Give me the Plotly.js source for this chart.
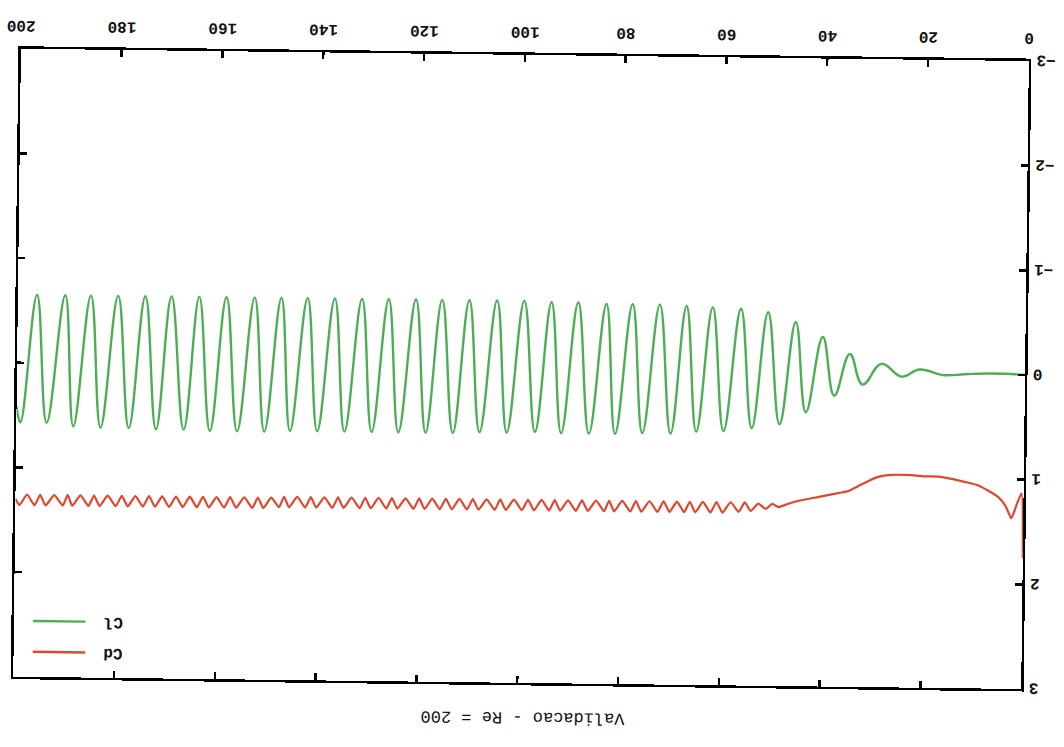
<!DOCTYPE html>
<html>
<head>
<meta charset="utf-8">
<script src="https://cdn.plot.ly/plotly-3.0.1.min.js"></script>
<style>
  html, body { margin: 0; padding: 0; background: #ffffff; overflow: hidden; width: 1064px; height: 747px; }
  #chart { width: 1064px; height: 747px; transform: rotate(180.7deg); transform-origin: 50% 50%; }
</style>
</head>
<body>
<div id="chart"></div>
<script>
// ---- Data read from the (scanned, upside-down) reference ----
const chartTitle = "Validacao - Re = 200";
const xTickVals = [0, 20, 40, 60, 80, 100, 120, 140, 160, 180, 200];
const yTickVals = [-3, -2, -1, 0, 1, 2, 3];

// Cl: lift coefficient (extrema and a few flat points)
const clTime = [0, 4, 8, 12, 16.3, 20.9, 24.5, 28.5, 32.2, 34.8, 37.8, 40.2, 43.4, 45.6, 48.6, 51.1, 54.1, 56.5, 59.7, 62.1,
  65.1, 67.3, 70.2, 72.6, 75.8, 78.0, 81.2, 83.2, 86.4, 88.8, 91.9, 94.1, 97.1, 99.5, 102.7, 104.9, 108.1, 110.4, 113.4, 115.8,
  118.8, 121.0, 124.2, 126.4, 129.5, 131.7, 134.9, 137.1, 140.3, 142.5, 145.7, 147.7, 150.8, 153.0, 156.2, 158.6, 161.6, 164.0,
  166.8, 169.5, 172.3, 174.7, 177.7, 180.1, 183.3, 185.5, 188.7, 190.6, 194.0, 196.2, 199.2, 200];
const clValue = [0.00, -0.01, -0.01, 0.00, 0.01, -0.04, 0.03, -0.09, 0.11, -0.18, 0.22, -0.34, 0.38, -0.48, 0.50, -0.57, 0.54, -0.60, 0.57, -0.61,
  0.58, -0.62, 0.60, -0.63, 0.60, -0.63, 0.61, -0.63, 0.61, -0.64, 0.61, -0.64, 0.60, -0.65, 0.61, -0.65, 0.61, -0.65, 0.62, -0.65,
  0.62, -0.65, 0.62, -0.65, 0.62, -0.65, 0.62, -0.65, 0.62, -0.65, 0.62, -0.65, 0.63, -0.65, 0.63, -0.65, 0.63, -0.65,
  0.62, -0.65, 0.62, -0.65, 0.61, -0.65, 0.61, -0.65, 0.60, -0.65, 0.57, -0.65, 0.57, 0.42];

// Cd: drag coefficient
const cdTime = [0, 0.4, 1.2, 2.0, 2.4, 3.0, 3.6, 5.0, 7.0, 9.0, 11.5, 14.3, 16.9, 19.5, 22.3, 26.3, 28.9, 30.8, 32.8, 34.8,
  36.8, 38.8, 40.8, 42.8, 44.8, 46.8,
  48.6, 49.85, 51.1, 52.6, 54.1, 55.3, 56.5, 58.1, 59.7, 60.9, 62.1, 63.6, 65.1, 66.2, 67.3, 68.75, 70.2, 71.4, 72.6, 74.2,
  75.8, 76.9, 78.0, 79.6, 81.2, 82.2, 83.2, 84.8, 86.4, 87.6, 88.8, 90.35, 91.9, 93.0, 94.1, 95.6, 97.1, 98.3, 99.5, 101.1,
  102.7, 103.8, 104.9, 106.5, 108.1, 109.25, 110.4, 111.9, 113.4, 114.6, 115.8, 117.3, 118.8, 119.9, 121.0, 122.6, 124.2, 125.3,
  126.4, 127.95, 129.5, 130.6, 131.7, 133.3, 134.9, 136.0, 137.1, 138.7, 140.3, 141.4, 142.5, 144.1, 145.7, 146.7, 147.7, 149.25,
  150.8, 151.9, 153.0, 154.6, 156.2, 157.4, 158.6, 160.1, 161.6, 162.8, 164.0, 165.4, 166.8, 168.15, 169.5, 170.9, 172.3, 173.5,
  174.7, 176.2, 177.7, 178.9, 180.1, 181.7, 183.3, 184.4, 185.5, 187.1, 188.7, 189.65, 190.6, 192.3, 194.0, 195.1, 196.2, 197.7,
  199.2, 200];
const cdValue = [1.75, 1.13, 1.22, 1.33, 1.37, 1.31, 1.25, 1.17, 1.11, 1.06, 1.03, 1.00, 0.98, 0.98, 0.97, 0.97, 0.99, 1.03, 1.08, 1.13,
  1.15, 1.17, 1.19, 1.21, 1.23, 1.26,
  1.29, 1.26, 1.31, 1.26, 1.33, 1.25, 1.34, 1.25, 1.35, 1.25, 1.35, 1.25, 1.35, 1.25, 1.35, 1.25, 1.35, 1.25, 1.35, 1.25,
  1.35, 1.25, 1.35, 1.25, 1.35, 1.25, 1.35, 1.25, 1.35, 1.25, 1.35, 1.25, 1.35, 1.25, 1.35, 1.25, 1.35, 1.25, 1.35, 1.25,
  1.35, 1.25, 1.35, 1.25, 1.35, 1.25, 1.35, 1.25, 1.35, 1.25, 1.35, 1.25, 1.35, 1.25, 1.35, 1.25, 1.35, 1.25,
  1.35, 1.25, 1.35, 1.25, 1.35, 1.25, 1.35, 1.25, 1.35, 1.25, 1.35, 1.25, 1.35, 1.25, 1.35, 1.25, 1.35, 1.26,
  1.36, 1.26, 1.36, 1.26, 1.36, 1.26, 1.36, 1.26, 1.36, 1.26, 1.36, 1.26, 1.36, 1.26, 1.36, 1.26, 1.36, 1.26,
  1.36, 1.26, 1.36, 1.26, 1.36, 1.26, 1.36, 1.26, 1.36, 1.26, 1.36, 1.26, 1.36, 1.26, 1.36, 1.26, 1.36, 1.26,
  1.36, 1.30];

const seriesNames = ["Cd", "Cl"];
const seriesColors = ["#e2472e", "#4caf55"];

// ---- Plot ----
const mono = "Liberation Mono, Courier New, monospace";
const traces = [
  { x: cdTime, y: cdValue, name: seriesNames[0], type: "scatter", mode: "lines",
    line: { color: seriesColors[0], width: 2.2, shape: "spline", smoothing: 0.5 } },
  { x: clTime, y: clValue, name: seriesNames[1], type: "scatter", mode: "lines",
    line: { color: seriesColors[1], width: 2.4, shape: "spline", smoothing: 1.2 } }
];

const axisCommon = {
  showline: true, linecolor: "#000", linewidth: 2.5, mirror: "ticks",
  ticks: "inside", ticklen: 7, tickwidth: 2.5, tickcolor: "#000",
  showgrid: false, zeroline: false,
  tickfont: { family: mono, size: 16, color: "#111", weight: "bold" }
};

// custom legend (text left of the sample line, as in the original gnuplot key)
const legX0 = 0.929, legX1 = 0.981, legTextX = 0.913;
const legY = [0.960, 0.911];
const shapes = seriesNames.map((n, i) => ({
  type: "line", xref: "paper", yref: "paper", x0: legX0, x1: legX1, y0: legY[i], y1: legY[i],
  line: { color: seriesColors[i], width: 2.4 }
}));
const annotations = seriesNames.map((n, i) => ({
  xref: "paper", yref: "paper", x: legTextX, y: legY[i], text: n, showarrow: false,
  xanchor: "right", yanchor: "middle", font: { family: mono, size: 16, color: "#111", weight: "bold" }
}));

const layout = {
  width: 1064, height: 747,
  margin: { l: 39, r: 17, t: 64, b: 55 },
  paper_bgcolor: "#ffffff", plot_bgcolor: "#ffffff",
  showlegend: false,
  title: { text: chartTitle, x: 0.505, xanchor: "center", y: 0.962, yanchor: "middle",
    font: { family: mono, size: 17, color: "#111" } },
  xaxis: Object.assign({}, axisCommon, { range: [0, 200], tickvals: xTickVals, ticklabelstandoff: 6 }),
  yaxis: Object.assign({}, axisCommon, { range: [-3, 3], tickvals: yTickVals, ticklabelstandoff: 2 }),
  shapes: shapes,
  annotations: annotations
};

Plotly.newPlot("chart", traces, layout, { staticPlot: true, displayModeBar: false });
</script>
</body>
</html>
